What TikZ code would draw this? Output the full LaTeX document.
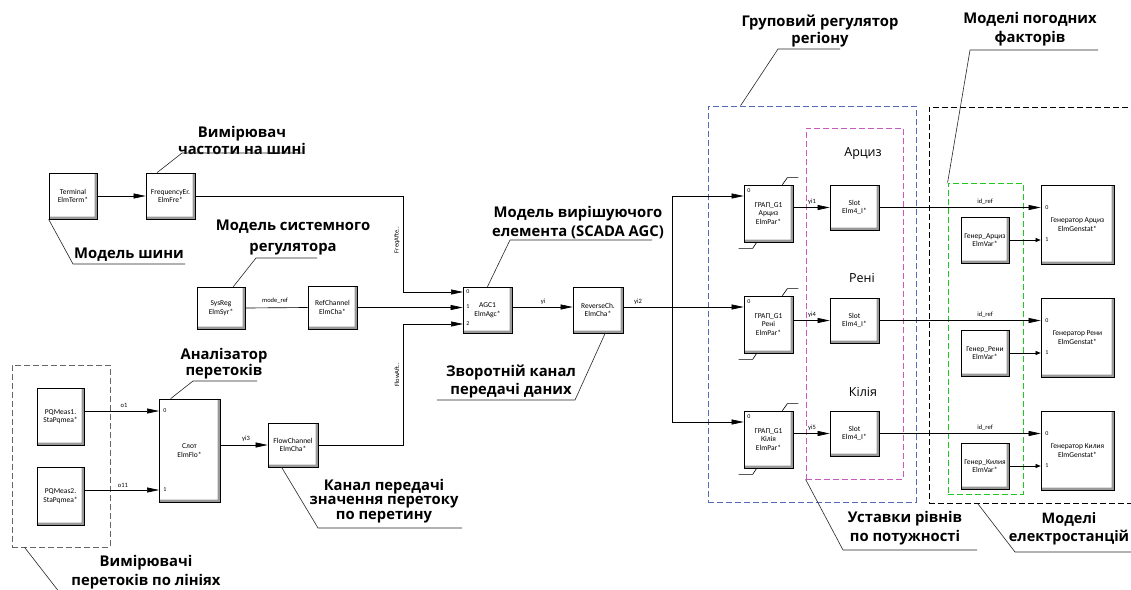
\documentclass[tikz,border=0pt]{standalone}
\usepackage{fontspec}
\setmainfont{Open Sans}
\newfontfamily\boxfont{Carlito}
\usetikzlibrary{arrows.meta, calc}

\definecolor{grpblue}{RGB}{85,105,185}
\definecolor{grpmag}{RGB}{200,90,190}
\definecolor{grpgreen}{RGB}{30,200,30}

\tikzset{
  blk/.style={draw, line width=0.7pt, fill=white, inner sep=1pt, align=center,
    font=\boxfont\fontsize{7.5}{8.5}\selectfont,
    path picture={
      \fill[black!40] (path picture bounding box.south west)
        -- (path picture bounding box.south east)
        -- (path picture bounding box.north east)
        -- ([xshift=-2.5pt]path picture bounding box.north east)
        -- ([xshift=-2.5pt, yshift=2.5pt]path picture bounding box.south east)
        -- ([yshift=2.5pt]path picture bounding box.south west) -- cycle;
    }},
  grp/.style={dash pattern=on 6pt off 3pt, line width=0.8pt, inner sep=0pt},
  lbl/.style={font=\bfseries\fontsize{14.8}{17}\selectfont, align=center, inner sep=0pt},
  lead/.style={line width=0.6pt, draw=black!85},
  tag/.style={font=\boxfont\fontsize{6.5}{7}\selectfont, inner sep=1pt},
  port/.style={font=\boxfont\fontsize{6}{6}\selectfont, inner sep=0pt},
  rowlbl/.style={font=\fontsize{12.5}{14}\selectfont, inner sep=0pt},
  sml/.style={-{Triangle[length=5pt, width=4pt]}}
}

\begin{document}
\begin{tikzpicture}[x=1pt, y=-1pt, >={Triangle[length=12pt, width=5pt]}, line width=0.65pt]
\path[use as bounding box, fill=white] (0, 0) rectangle (1131, 589);

\node[grp, draw=black!60, minimum width=98pt, minimum height=182pt] (measgrp) at (61, 456) {};
\node[grp, draw=grpblue, minimum width=208pt, minimum height=396pt] (regiongrp) at (812, 304) {};
\node[grp, draw=grpmag, minimum width=97pt, minimum height=351pt] (setgrp) at (854.5, 303.5) {};
\node[grp, draw=black, minimum width=221pt, minimum height=396pt] (plantgrp) at (1039.5, 305) {};
\node[grp, draw=grpgreen, minimum width=75pt, minimum height=311pt] (weathgrp) at (985.5, 338.5) {};

\node[blk, minimum width=48pt, minimum height=46pt] (term) at (73, 196) {Terminal\\ElmTerm*};
\node[blk, minimum width=49pt, minimum height=46pt] (freq) at (170.5, 196) {FrequencyEr.\\ElmFre*};
\node[blk, minimum width=48pt, minimum height=42pt] (sysreg) at (221, 308) {SysReg\\ElmSyr*};
\node[blk, minimum width=49pt, minimum height=43pt] (refch) at (332.5, 307.5) {RefChannel\\ElmCha*};
\node[blk, minimum width=49pt, minimum height=46pt] (agc) at (487.5, 310) {AGC1\\ElmAgc*};
\node[blk, minimum width=50pt, minimum height=46pt] (revch) at (598, 310) {ReverseCh.\\ElmCha*};
\node[blk, minimum width=47pt, minimum height=57pt] (pq1) at (60.5, 416.5) {PQMeas1.\\StaPqmea*};
\node[blk, minimum width=47pt, minimum height=58pt] (pq2) at (60.5, 496) {PQMeas2.\\StaPqmea*};
\node[blk, minimum width=61pt, minimum height=103pt] (flo) at (189.5, 450.5) {Слот\\ElmFlo*};
\node[blk, minimum width=50pt, minimum height=44pt] (flowch) at (293, 445) {FlowChannel\\ElmCha*};

\node[blk, minimum width=49pt, minimum height=57pt] (grap1) at (768.5, 213.5) {ГРАП\_G1\\Арциз\\ElmPar*};
\node[blk, minimum width=49pt, minimum height=57pt] (grap2) at (768.5, 324.5) {ГРАП\_G1\\Рені\\ElmPar*};
\node[blk, minimum width=49pt, minimum height=57pt] (grap3) at (768.5, 439.5) {ГРАП\_G1\\Кілія\\ElmPar*};
\node[blk, minimum width=49pt, minimum height=45pt] (slot1) at (854.5, 207.5) {Slot\\Elm4\_I*};
\node[blk, minimum width=49pt, minimum height=45pt] (slot2) at (854.5, 320.5) {Slot\\Elm4\_I*};
\node[blk, minimum width=49pt, minimum height=45pt] (slot3) at (854.5, 433.5) {Slot\\Elm4\_I*};
\node[blk, minimum width=48pt, minimum height=46pt] (var1) at (985, 240) {Генер\_Арциз\\ElmVar*};
\node[blk, minimum width=48pt, minimum height=46pt] (var2) at (985, 353) {Генер\_Рени\\ElmVar*};
\node[blk, minimum width=48pt, minimum height=46pt] (var3) at (985, 466) {Генер\_Килия\\ElmVar*};
\node[blk, minimum width=73pt, minimum height=79pt] (gen1) at (1077.5, 224.5) {Генератор Арциз\\ElmGenstat*};
\node[blk, minimum width=73pt, minimum height=79pt] (gen2) at (1077.5, 337.5) {Генератор Рени\\ElmGenstat*};
\node[blk, minimum width=73pt, minimum height=79pt] (gen3) at (1077.5, 450.5) {Генератор Килия\\ElmGenstat*};

\node[rowlbl] (rarc) at (863, 154) {Арциз};
\node[rowlbl] (rren) at (862, 278) {Рені};
\node[rowlbl] (rkil) at (863, 392) {Кілія};

\node[port] (agcp0) at (468, 292) {0};
\node[port] (agcp1) at (468, 307) {1};
\node[port] (agcp2) at (468, 324) {2};
\node[port] (flop0) at (165, 411) {0};
\node[port] (flop1) at (165, 490) {1};
\node[port] (g1p) at (749, 191) {0};
\node[port] (g2p) at (749, 302) {0};
\node[port] (g3p) at (749, 417) {0};
\node[port] (gen1p0) at (1047, 207.5) {0};
\node[port] (gen1p1) at (1047, 240) {1};
\node[port] (gen2p0) at (1047, 320.5) {0};
\node[port] (gen2p1) at (1047, 353) {1};
\node[port] (gen3p0) at (1047, 433.5) {0};
\node[port] (gen3p1) at (1047, 466) {1};

\coordinate (agc0) at (463, 292);
\coordinate (agc2) at (463, 324);
\coordinate (flo0) at (159, 411);
\coordinate (flo1) at (159, 490);
\coordinate (jtop) at (672, 196);
\coordinate (jn) at (672, 307);
\coordinate (jbot) at (672, 422);

\draw[->] (term.east) -- (freq.west);
\draw[->] (freq.east) -- ++(208, 0) |- (agc0);
\draw (sysreg.east) -- (refch.west);
\draw[->] (refch.east) -- (refch.east -| agc.west);
\draw[->] (pq1.east |- flo0) -- (flo0);
\draw[->] (pq2.east |- flo1) -- (flo1);
\draw[->] (flo.east |- flowch.west) -- (flowch.west);
\draw[->] (flowch.east) -- ++(85, 0) |- (agc2);
\draw[->] ([yshift=3pt]agc.east) -- ([yshift=3pt]revch.west);
\draw ([yshift=3pt]revch.east) -- (jn);
\draw (jtop) -- (jbot);
\draw[->] (jtop) -- (jtop -| grap1.west);
\draw[->] (jn) -- (jn -| grap2.west);
\draw[->] (jbot) -- (jbot -| grap3.west);
\draw[->] (grap1.east |- slot1.west) -- (slot1.west);
\draw[->] (grap2.east |- slot2.west) -- (slot2.west);
\draw[->] (grap3.east |- slot3.west) -- (slot3.west);
\draw[->] (slot1.east) -- (slot1.east -| gen1.west);
\draw[->] (slot2.east) -- (slot2.east -| gen2.west);
\draw[->] (slot3.east) -- (slot3.east -| gen3.west);
\draw[sml] (var1.east) -- (var1.east -| gen1.west);
\draw[sml] (var2.east) -- (var2.east -| gen2.west);
\draw[sml] (var3.east) -- (var3.east -| gen3.west);

\draw (grap1.north east) ++(-11, 0) -- ++(5, -7) -- ++(11, 0);
\draw (grap2.north east) ++(-11, 0) -- ++(5, -7) -- ++(11, 0);
\draw (grap3.north east) ++(-11, 0) -- ++(5, -7) -- ++(11, 0);
\draw (grap1.south west) ++(13, 0) -- ++(-4, 6) -- ++(-14, 0);
\draw (grap2.south west) ++(13, 0) -- ++(-4, 6) -- ++(-14, 0);
\draw (grap3.south west) ++(13, 0) -- ++(-4, 6) -- ++(-14, 0);

\node[tag, rotate=90] (tfreq) at (397, 240) {FreqAfte..};
\node[tag, rotate=90] (tflow) at (397, 375) {FlowAft..};
\node[tag] (tmode) at (275, 301) {mode\_ref};
\node[tag] (tyi) at (543, 302) {yi};
\node[tag] (tyi2) at (638, 302) {yi2};
\node[tag] (to1) at (124, 405) {o1};
\node[tag] (to11) at (123, 485) {o11};
\node[tag] (tyi3) at (246, 439) {yi3};
\node[tag] (tyi1) at (812, 202) {yi1};
\node[tag] (tyi4) at (812, 315) {yi4};
\node[tag] (tyi5) at (812, 428) {yi5};
\node[tag] (tid1) at (985, 202) {id\_ref};
\node[tag] (tid2) at (985, 315) {id\_ref};
\node[tag] (tid3) at (985, 428) {id\_ref};

\node[lbl] (lfreq) at (242, 140) {Вимірювач\\частоти на шині};
\coordinate (ufreqA) at (182, 153);
\coordinate (ufreqB) at (302, 153);
\draw[lead] (freq.120) -- (ufreqA) -- (ufreqB);

\node[lbl] (lshina) at (129, 255) {Модель шини};
\coordinate (ushinaA) at (73, 264);
\coordinate (ushinaB) at (185, 264);
\draw[lead] (term.south west) -- (ushinaA) -- (ushinaB);

\node[lbl, font=\bfseries\fontsize{14.8}{21}\selectfont] (lsys) at (293, 237.5) {Модель системного\\регулятора};
\coordinate (usysA) at (256, 258);
\coordinate (usysB) at (317, 258);
\draw[lead] (sysreg.60) -- (usysA) -- (usysB);

\node[lbl, font=\bfseries\fontsize{14.8}{16}\selectfont] (lanal) at (224, 364) {Аналізатор\\перетоків};
\coordinate (uanalA) at (193, 381);
\coordinate (uanalB) at (257, 381);
\draw[lead] (flo.110) -- (uanalA) -- (uanalB);

\node[lbl, font=\bfseries\fontsize{14.8}{14.5}\selectfont] (lkanal) at (384, 501) {Канал передачі\\значення перетоку\\по перетину};
\coordinate (ukanA) at (318, 528);
\coordinate (ukanB) at (462, 528);
\draw[lead] (flowch.243) -- (ukanA) -- (ukanB);

\node[lbl, font=\bfseries\fontsize{14.8}{18}\selectfont] (lrev) at (511, 381) {Зворотній канал\\передачі даних};
\coordinate (urevA) at (437, 400);
\coordinate (urevB) at (575, 400);
\draw[lead] (revch.-73) -- (urevB) -- (urevA);

\node[lbl, font=\bfseries\fontsize{14.8}{19}\selectfont] (lagc) at (578, 222.5) {Модель вирішуючого\\елемента (SCADA AGC)};
\coordinate (uagcA) at (510, 240);
\coordinate (uagcB) at (652, 240);
\draw[lead] (agc.north) -- (uagcA) -- (uagcB);

\node[lbl] (lgrp) at (820, 31) {Груповий регулятор\\регіону};
\coordinate (ugrpA) at (778, 49);
\coordinate (ugrpB) at (840, 49);
\draw[lead] ([xshift=33pt]regiongrp.north west) -- (ugrpA) -- (ugrpB);

\node[lbl, font=\bfseries\fontsize{14.8}{19}\selectfont] (lweather) at (1030, 29.5) {Моделі погодних\\факторів};
\coordinate (uweaA) at (970, 50);
\coordinate (uweaB) at (1098, 50);
\draw[lead] (weathgrp.north west) -- (uweaA) -- (uweaB);

\node[lbl, font=\bfseries\fontsize{14.8}{19}\selectfont] (lust) at (905, 528.5) {Уставки рівнів\\по потужності};
\coordinate (uustA) at (843, 550);
\coordinate (uustB) at (977, 550);
\draw[lead] (setgrp.south west) -- (uustA) -- (uustB);

\node[lbl, font=\bfseries\fontsize{14.5}{18}\selectfont] (lstat) at (1069, 529) {Моделі\\електростанцій};
\coordinate (ustaA) at (1015, 552);
\coordinate (ustaB) at (1140, 552);
\draw[lead] ([xshift=49pt]plantgrp.south west) -- (ustaA) -- (ustaB);

\node[lbl, font=\bfseries\fontsize{14.8}{19}\selectfont] (lmeas) at (146, 572.5) {Вимірювачі\\перетоків по лініях};
\coordinate (umeaA) at (60, 593);
\coordinate (umeaB) at (240, 593);
\draw[lead] ([xshift=13pt]measgrp.south west) -- (umeaA) -- (umeaB);
\end{tikzpicture}
\end{document}
